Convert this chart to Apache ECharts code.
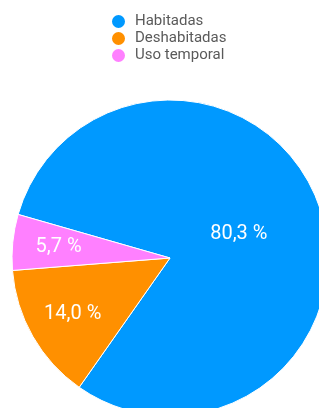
<!DOCTYPE html>
<html>
<head>
<meta charset="utf-8">
<script src="https://cdn.jsdelivr.net/npm/echarts@6/dist/echarts.min.js"></script>
<style>
  html, body { margin: 0; padding: 0; background: #fff; }
  #chart { width: 319px; height: 408px; }
</style>
</head>
<body>
<div id="chart"></div>
<script type="text/javascript">
	// datos de la vivienda
	var categorias = ['Habitadas', 'Deshabitadas', 'Uso temporal'];
	var valores = [80.3, 14.0, 5.7];
	var colores = ['#0099ff', '#ff9000', '#ff80ff'];

	var fmt = function(p){ return p.value.toFixed(1).replace('.', ',') + ' %'; };

	var datos = [];
	var etiquetasGrande = [];
	var etiquetasPeq = [];
	for(var i=0; i<categorias.length; i++){
		datos.push({name: categorias[i], value: valores[i], itemStyle: {color: colores[i]}});
		etiquetasGrande.push({name: categorias[i], value: valores[i], label: {show: i === 0}});
		etiquetasPeq.push({name: categorias[i], value: valores[i], label: {show: i !== 0}});
	}

	var capaEtiquetas = function(radio, data){
		return {
			type: 'pie',
			center: [170, 258],
			radius: radio,
			startAngle: 164,
			silent: true,
			animation: false,
			itemStyle: {color: 'rgba(0,0,0,0)', borderWidth: 0},
			label: {position: 'inside', color: '#fff', fontSize: 20, fontFamily: 'Roboto', formatter: fmt},
			labelLine: {show: false},
			emphasis: {disabled: true},
			data: data
		};
	};

	var option = {
		animation: false,
		legend: {
			orient: 'vertical',
			left: 105,
			top: 8,
			icon: 'circle',
			itemWidth: 15,
			itemHeight: 15,
			itemGap: 0,
			textStyle: {color: '#5a5a5a', fontSize: 15, fontFamily: 'Roboto', lineHeight: 16, padding: [0, 0, 0, 4]},
			data: categorias
		},
		series: [
			{
				type: 'pie',
				center: [170, 258],
				radius: [0, 158],
				startAngle: 164,
				itemStyle: {borderColor: '#fff', borderWidth: 1},
				label: {show: false},
				labelLine: {show: false},
				data: datos
			},
			capaEtiquetas([0, 140], etiquetasGrande),
			capaEtiquetas([58, 160], etiquetasPeq)
		]
	};

	var myChart = echarts.init(document.getElementById('chart'));
	myChart.setOption(option);
</script>
</body>
</html>
